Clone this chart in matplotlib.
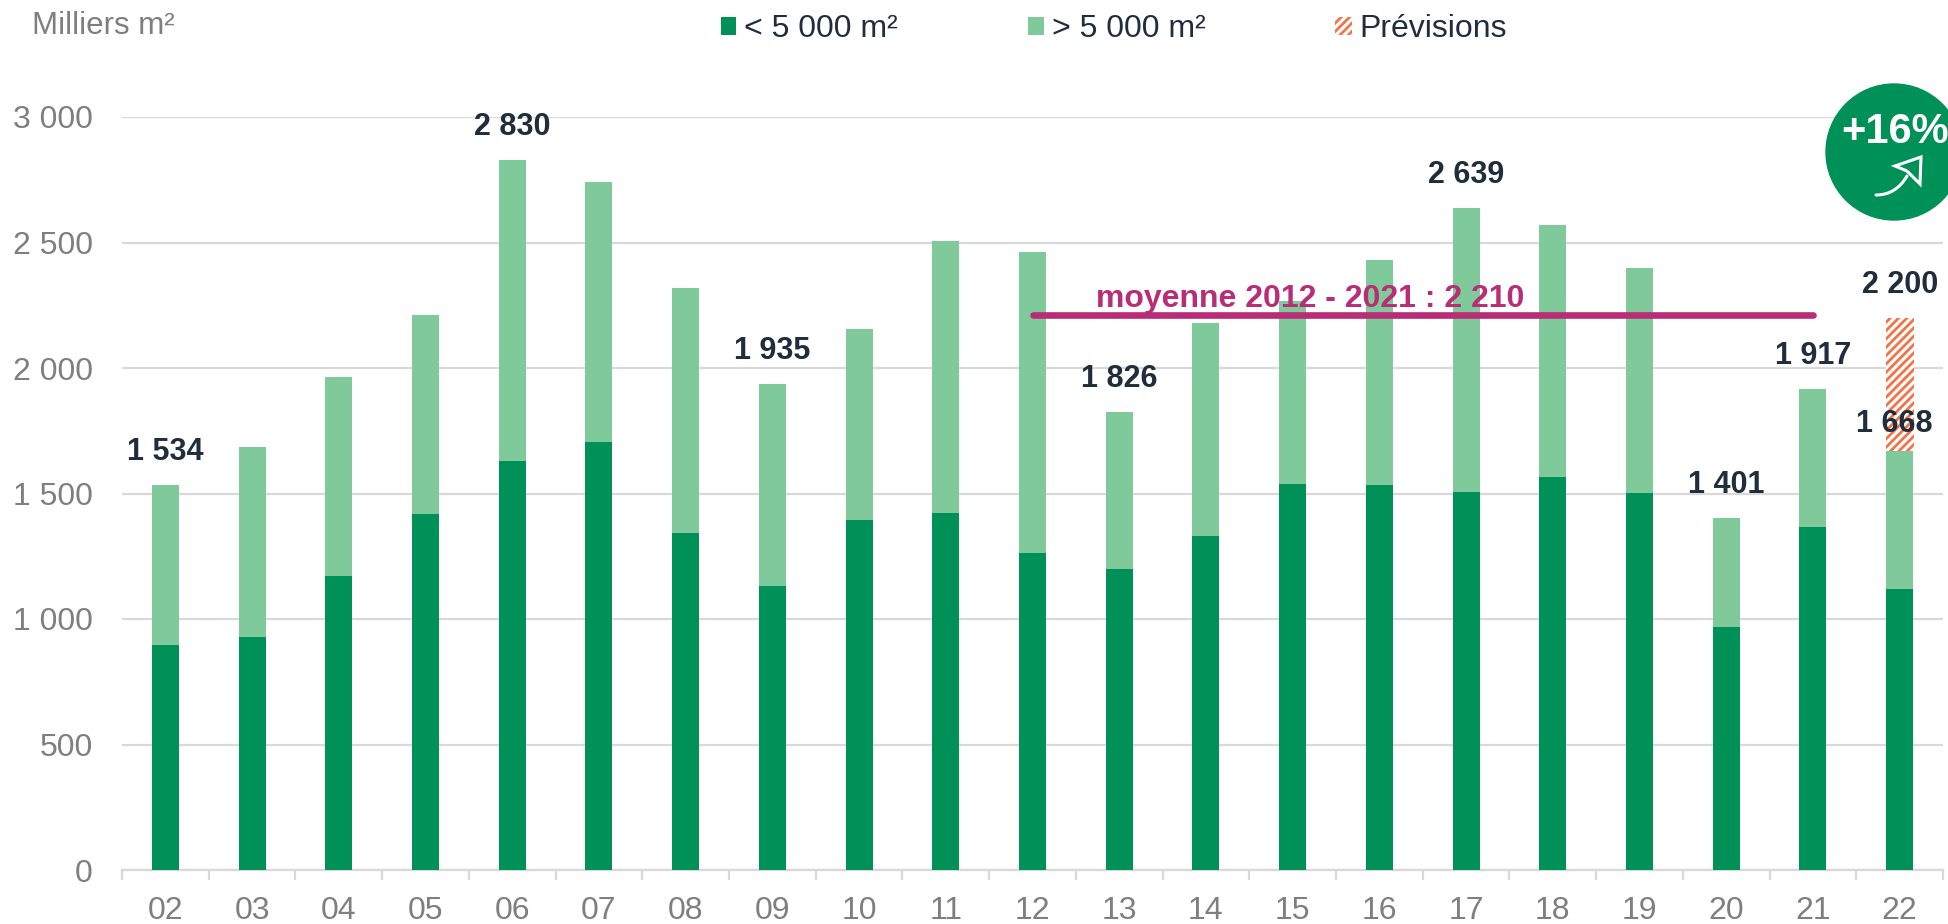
import matplotlib
matplotlib.use('Agg')
import matplotlib.pyplot as plt
from matplotlib.patches import Circle, Rectangle, PathPatch
from matplotlib.path import Path

years = ['02', '03', '04', '05', '06', '07', '08', '09', '10', '11', '12',
         '13', '14', '15', '16', '17', '18', '19', '20', '21', '22']
petits = [897, 927, 1170, 1418, 1631, 1705, 1344, 1130, 1393, 1423, 1264,
          1200, 1329, 1537, 1532, 1507, 1567, 1502, 967, 1366, 1120]
totaux = [1534, 1685, 1963, 2211, 2830, 2742, 2320, 1935, 2157, 2504, 2464,
          1826, 2181, 2266, 2430, 2639, 2568, 2400, 1401, 1917, 1668]
prevision = 2200
moyenne = 2210
labels = {0: '1 534', 4: '2 830', 7: '1 935', 11: '1 826', 15: '2 639',
          18: '1 401', 19: '1 917', 20: '1 668'}
yticks = [0, 500, 1000, 1500, 2000, 2500, 3000]
ytick_labels = ['0', '500', '1 000', '1 500', '2 000', '2 500', '3 000']

VERT = '#009159'
VERT_CLAIR = '#80C99B'
ORANGE = '#F4734A'
MARINE = '#1F2D3D'
GRIS = '#7F7F7F'
LIGNE = '#D9D9D9'
ROSE = '#B92D77'

plt.rcParams['font.family'] = ['Liberation Sans', 'DejaVu Sans']
plt.rcParams['hatch.linewidth'] = 2.0

W, H = 1949, 924
fig = plt.figure(figsize=(W / 100, H / 100), dpi=100)
ax = fig.add_axes([122 / W, 1 - 870 / H, (1943 - 122) / W, (870 - 117) / H])

x = list(range(len(years)))
grands = [t - p for t, p in zip(totaux, petits)]

ax.bar(x[-1], prevision - totaux[-1], bottom=totaux[-1], width=0.32, color='white',
       edgecolor=ORANGE, hatch='////', linewidth=0, zorder=2)
ax.bar(x, petits, width=0.31, color=VERT, zorder=3)
ax.bar(x, grands, bottom=petits, width=0.31, color=VERT_CLAIR, zorder=3)

ax.set_xlim(-0.5, len(years) - 0.5)
ax.set_ylim(0, 3000)
ax.set_yticks(yticks, ytick_labels)
ax.set_xticks(x, years)
ax.set_xticks([i - 0.5 for i in range(len(years) + 1)], minor=True)
ax.grid(axis='y', color=LIGNE, linewidth=1.6, zorder=0)
ax.set_axisbelow(True)
for s in ['top', 'right', 'left']:
    ax.spines[s].set_visible(False)
ax.spines['bottom'].set_color(LIGNE)
ax.spines['bottom'].set_linewidth(1.6)
ax.tick_params(axis='x', which='major', length=0, labelsize=23, labelcolor=GRIS, pad=18.5)
ax.tick_params(axis='x', which='minor', length=7, width=1.6, color=LIGNE)
ax.tick_params(axis='y', length=0, labelsize=23, labelcolor=GRIS, pad=21)

for i, txt in labels.items():
    dx, dy = (-5, 12) if i == 20 else (0, 18)
    ax.annotate(txt, (i, totaux[i]), xytext=(dx, dy), textcoords='offset pixels',
                ha='center', va='bottom', fontsize=22, fontweight='bold',
                color=MARINE, zorder=6)
ax.annotate('2 200', (x[-1], prevision), xytext=(0, 18), textcoords='offset pixels',
            ha='center', va='bottom', fontsize=22, fontweight='bold', color=MARINE, zorder=6)

# moyenne 2012 - 2021
ax.plot([10, 19], [moyenne, moyenne], color=ROSE, linewidth=4.8, solid_capstyle='round', zorder=5)
ax.text(13.2, moyenne + 32, 'moyenne 2012 - 2021 : 2 210', ha='center', va='baseline',
        fontsize=23, fontweight='bold', color=ROSE, zorder=6)

# overlay in pixels for legend, unit and badge
ov = fig.add_axes([0, 0, 1, 1])
ov.set_xlim(0, W)
ov.set_ylim(H, 0)
ov.axis('off')
ov.patch.set_alpha(0)

ov.text(32, 26, 'Milliers m²', fontsize=22.5, color=GRIS, va='center', ha='left')

ov.add_patch(Rectangle((721, 17), 15, 18, color=VERT, linewidth=0))
ov.text(744, 29, '< 5 000 m²', fontsize=23, color=MARINE, va='center', ha='left')
ov.add_patch(Rectangle((1028, 17), 16, 18, color=VERT_CLAIR, linewidth=0))
ov.text(1052, 29, '> 5 000 m²', fontsize=23, color=MARINE, va='center', ha='left')
ov.add_patch(Rectangle((1335, 17), 17, 18, facecolor='white', edgecolor=ORANGE,
                       hatch='////', linewidth=0))
ov.text(1359, 29, 'Prévisions', fontsize=23, color=MARINE, va='center', ha='left')

ov.add_patch(Circle((1894, 152), 68, color=VERT, zorder=7))
ov.text(1895, 132, '+16%', fontsize=30, fontweight='bold', color='white',
        ha='center', va='center', zorder=8)

# flèche du badge
tige = Path([(1876, 195), (1896, 195), (1907, 176)], [Path.MOVETO, Path.CURVE3, Path.CURVE3])
tete = Path([(1907, 171), (1895, 166), (1921, 157), (1920, 184), (1907, 171)],
            [Path.MOVETO, Path.LINETO, Path.LINETO, Path.LINETO, Path.LINETO])
ov.add_patch(PathPatch(tige, fill=False, edgecolor='white', linewidth=2.2, capstyle='round', zorder=8))
ov.add_patch(PathPatch(tete, fill=False, edgecolor='white', linewidth=2.2, joinstyle='miter', zorder=8))

fig.savefig('out.png', dpi=100)
